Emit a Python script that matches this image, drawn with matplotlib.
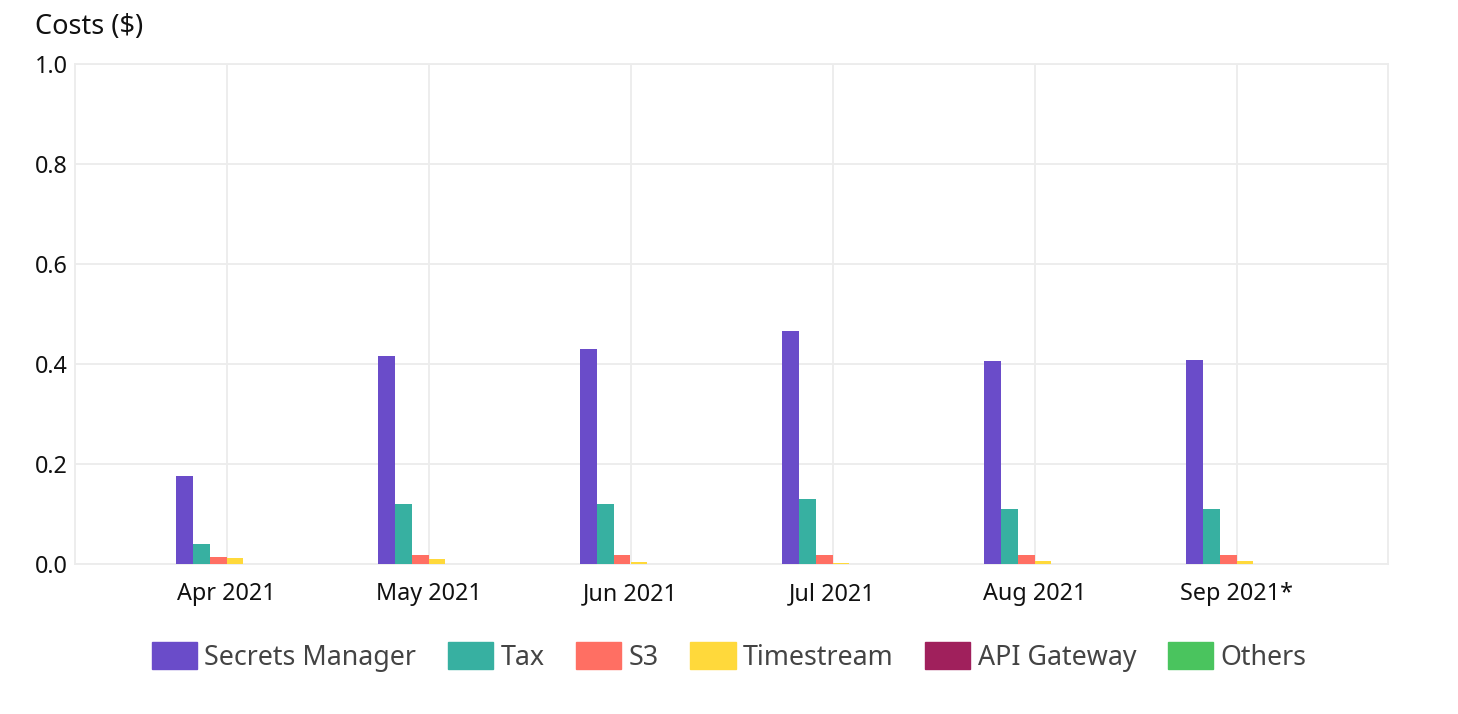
import numpy as np
import matplotlib; matplotlib.use('Agg')
import matplotlib.pyplot as plt
from matplotlib.patches import Patch

plt.rcParams['font.family'] = ['Noto Sans', 'DejaVu Sans']

months = ['Apr 2021', 'May 2021', 'Jun 2021', 'Jul 2021', 'Aug 2021', 'Sep 2021*']
services = ['Secrets Manager', 'Tax', 'S3', 'Timestream', 'API Gateway', 'Others']
secrets_manager = [0.176, 0.416, 0.430, 0.466, 0.406, 0.408]
tax = [0.040, 0.120, 0.120, 0.130, 0.110, 0.110]
s3 = [0.014, 0.018, 0.018, 0.018, 0.018, 0.018]
timestream = [0.013, 0.010, 0.005, 0.002, 0.006, 0.006]
api_gateway = [0.0, 0.0, 0.0, 0.0, 0.0, 0.0]
others = [0.0, 0.0, 0.0, 0.0, 0.0, 0.0]
colors = ['#6a4cc9', '#37b0a1', '#ff6f63', '#ffd93b', '#a0205c', '#4ac45e']

series = [secrets_manager, tax, s3, timestream, api_gateway, others]
grid_c = '#ececec'

fig = plt.figure(figsize=(14.58, 7.14), dpi=100)
ax = fig.add_axes([75/1458, 1-564/714, (1388-75)/1458, 500/714])

x = np.arange(len(months))
w = 0.084
for i, (vals, col) in enumerate(zip(series, colors)):
    ax.bar(x + (i - 2.5) * w, vals, w, color=col, zorder=3, linewidth=0)

ax.set_xlim(-0.75, 5.75)
ax.set_ylim(0, 1.0)
ax.set_xticks(x)
ax.set_xticklabels(months)
ax.set_yticks([0, 0.2, 0.4, 0.6, 0.8, 1.0])
ax.set_yticklabels(['0.0', '0.2', '0.4', '0.6', '0.8', '1.0'])
ax.tick_params(length=0, labelsize=16.8, colors='#111111')
ax.tick_params(axis='x', pad=13)
ax.tick_params(axis='y', pad=5)
ax.grid(True, color=grid_c, lw=1.3, zorder=0)
for s in ax.spines.values():
    s.set_color(grid_c); s.set_linewidth(1.3)

fig.text(35/1458, 1-27/714, 'Costs ($)', fontsize=19.5, va='center', ha='left', color='#111111')

handles = [Patch(color=c, label=l) for c, l in zip(colors, services)]
fig.legend(handles=handles, loc='center', bbox_to_anchor=(0.5, 1-657/714), ncol=6,
           frameon=False, fontsize=19.3, handlelength=1.7, handleheight=1.14,
           handletextpad=0.27, columnspacing=1.17, labelcolor='#444444')

fig.savefig('out.png', dpi=100)
